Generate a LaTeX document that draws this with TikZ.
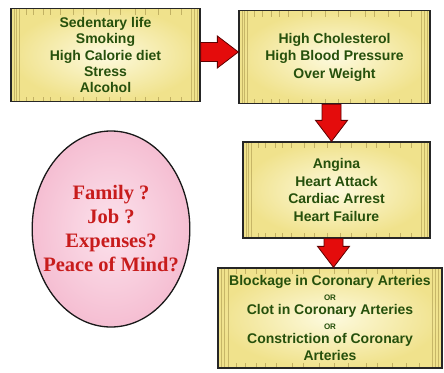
\documentclass[tikz,border=0pt]{standalone}
\usepackage{fontspec}
\setmainfont{Liberation Sans}
\newfontfamily\mindfont{Liberation Serif}
\usetikzlibrary{calc,shapes.geometric}
\definecolor{boxtext}{RGB}{38,80,12}
\definecolor{boxin}{RGB}{253,250,222}
\definecolor{boxout}{RGB}{240,226,140}
\definecolor{stripecol}{RGB}{150,130,60}
\definecolor{arrowred}{RGB}{228,12,12}
\definecolor{arrowdark}{RGB}{95,0,0}
\definecolor{pinkin}{RGB}{252,226,236}
\definecolor{pinkout}{RGB}{245,190,210}
\definecolor{mindred}{RGB}{200,28,28}
\tikzset{
  stripes/.style={path picture={
    \foreach \f in {0.015,0.03,0.045,0.955,0.97,0.985}
      \draw[stripecol,opacity=0.45,line width=0.5pt]
        ($(path picture bounding box.north west)!\f!(path picture bounding box.north east)$) -- ++(0,-120pt);
    \foreach \f in {0.08,0.12,0.17,0.21,0.26,0.33,0.38,0.45,0.52,0.58,0.66,0.71,0.78,0.84,0.9}{
      \draw[stripecol,opacity=0.5,line width=0.5pt]
        ($(path picture bounding box.north west)!\f!(path picture bounding box.north east)$) -- ++(0,-6pt);
      \draw[stripecol,opacity=0.5,line width=0.5pt]
        ($(path picture bounding box.south west)!\f!(path picture bounding box.south east)$) -- ++(0,5pt);}
  }},
  infobox/.style={draw=black!85, line width=1.3pt, inner color=boxin, outer color=boxout,
    stripes, text=boxtext, align=center, inner sep=2pt,
    font=\bfseries\fontsize{14}{17.5}\selectfont},
  mindoval/.style={ellipse, draw=black!90, line width=1.3pt, inner color=pinkin, outer color=pinkout,
    text=mindred, align=center, inner xsep=-12pt, inner ysep=0pt,
    font=\mindfont\bfseries\fontsize{20.5}{24}\selectfont},
  blockarrow/.style={draw=arrowdark, fill=arrowred, line width=0.8pt, line join=miter,
    to path={let \p1=(\tikztostart), \p2=(\tikztotarget), \n1={atan2(\y2-\y1,\x2-\x1)} in
      -- ($(\p1)+(\n1+90:9.5pt)$)
      -- ($(\p2)+(\n1+180:21pt)+(\n1+90:9.5pt)$)
      -- ($(\p2)+(\n1+180:21pt)+(\n1+90:16pt)$)
      -- (\p2)
      -- ($(\p2)+(\n1+180:21pt)+(\n1-90:16pt)$)
      -- ($(\p2)+(\n1+180:21pt)+(\n1-90:9.5pt)$)
      -- ($(\p1)+(\n1-90:9.5pt)$) -- cycle}}
}
\begin{document}
\begin{tikzpicture}[x=1pt,y=-1pt]
\fill[white] (0,0) rectangle (444,372);
\useasboundingbox (0,0) rectangle (444,372);

\node[infobox, minimum width=189pt, minimum height=93pt, font=\bfseries\fontsize{14}{16.2}\selectfont] (b1) at (105.5,55)
  {Sedentary life\\Smoking\\High Calorie diet\\Stress\\Alcohol};
\node[infobox, minimum width=191pt, minimum height=93pt] (b2) at (334.5,57)
  {High Cholesterol\\High Blood Pressure\\Over Weight};
\node[infobox, minimum width=187pt, minimum height=96pt] (b3) at (336.5,190)
  {Angina\\Heart Attack\\Cardiac Arrest\\Heart Failure};
\node[infobox, minimum width=224pt, minimum height=100pt, font=\bfseries\fontsize{14}{14.5}\selectfont] (b4) at (330,318)
  {Blockage in Coronary Arteries\\{\fontsize{8}{8}\selectfont OR}\\Clot in Coronary Arteries\\{\fontsize{8}{8}\selectfont OR}\\Constriction of Coronary\\[2pt]Arteries};

\node[mindoval, minimum width=154pt, minimum height=196pt] (m) at (111,229)
  {Family ?\\Job ?\\Expenses?\\Peace of Mind?};

\draw[blockarrow] ($(b1.east)+(0,3pt)$) to ($(b1.east -| b2.west)+(0,3pt)$);
\draw[blockarrow] ($(b2.south)+(-3pt,0)$) to ($(b2.south |- b3.north)+(-3pt,0)$);
\draw[blockarrow] ($(b3.south)+(-3pt,0)$) to ($(b3.south |- b4.north)+(-3pt,0)$);
\end{tikzpicture}
\end{document}
